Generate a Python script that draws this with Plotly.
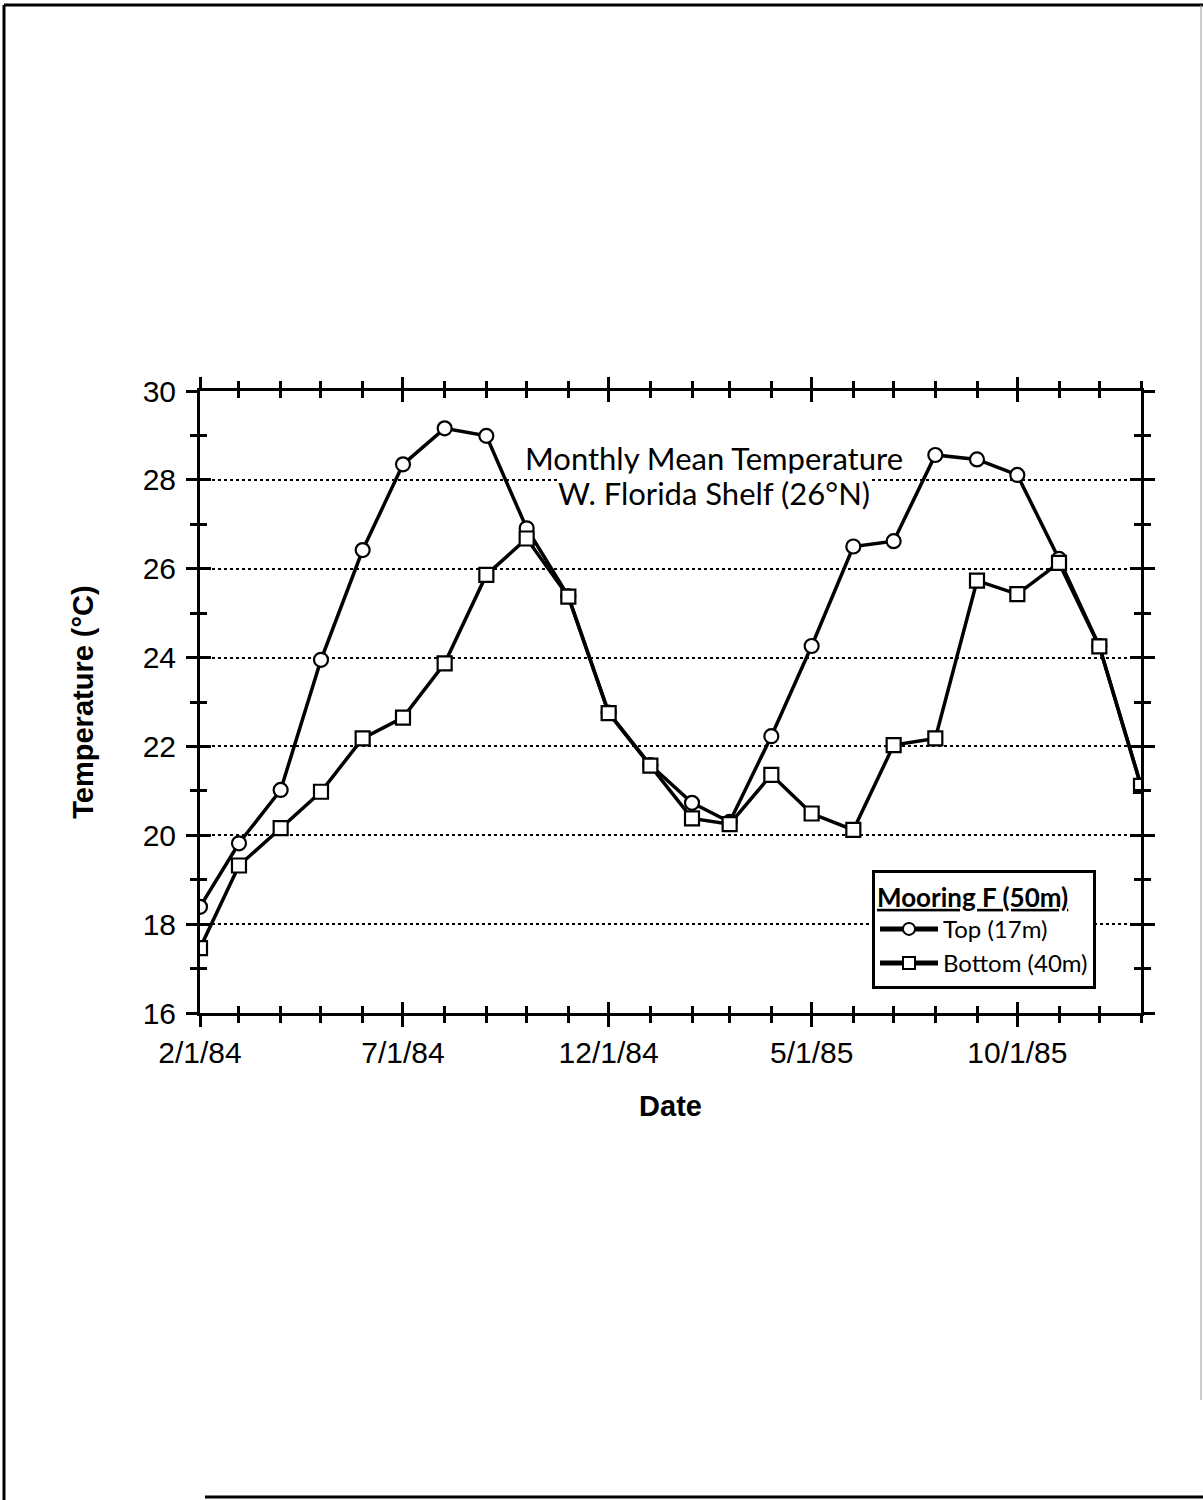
import pandas as pd
import plotly.graph_objects as go

# Monthly mean temperatures, Mooring F (50 m), W. Florida Shelf
months = pd.date_range("1984-02-01", "1986-01-01", freq="MS")
top_17m = [18.39, 19.82, 21.02, 23.95, 26.42, 28.35, 29.16, 28.99, 26.91, 25.38,
           22.76, 21.58, 20.73, 20.30, 22.23, 24.26, 26.50, 26.62, 28.56, 28.46,
           28.11, 26.22, 24.26, 21.12]
bottom_40m = [17.46, 19.32, 20.16, 20.98, 22.18, 22.65, 23.87, 25.86, 26.68, 25.37,
              22.75, 21.57, 20.38, 20.25, 21.36, 20.49, 20.12, 22.03, 22.18, 25.73,
              25.43, 26.13, 24.25, 21.11]

x_tick_dates = ["1984-02-01", "1984-07-01", "1984-12-01", "1985-05-01", "1985-10-01"]
x_tick_labels = ["2/1/84", "7/1/84", "12/1/84", "5/1/85", "10/1/85"]
y_ticks = [16, 18, 20, 22, 24, 26, 28, 30]

W, H = 1203, 1500
L, R, T, B = 200, 62, 391, 487
PW, PH = W - L - R, H - T - B

LABEL_FONT = "Liberation Sans, Arial, sans-serif"
TEXT_FONT = "Lato, sans-serif"


def px_x(p):
    return (p - L) / PW


def px_y(p):
    return (H - B - p) / PH


fig = go.Figure()
fig.add_trace(go.Scatter(
    x=months, y=top_17m, name="Top (17m)", mode="lines+markers",
    line=dict(color="black", width=3.5),
    marker=dict(symbol="circle", size=14, color="white",
                line=dict(color="black", width=2.2)),
))
# bottom series sits on the overlay axes (which carry the inward tick marks)
fig.add_trace(go.Scatter(
    x=months, y=bottom_40m, name="Bottom (40m)", mode="lines+markers",
    xaxis="x2", yaxis="y2",
    line=dict(color="black", width=3.5),
    marker=dict(symbol="square", size=14, color="white",
                line=dict(color="black", width=2.2)),
))

common_x = dict(
    type="date", range=[months[0], months[-1]],
    tickmode="array", tickvals=x_tick_dates,
    ticklen=11, tickwidth=2.5, tickcolor="black",
    minor=dict(tick0="1984-02-01", dtick="M1", ticklen=7, tickwidth=2.5,
               tickcolor="black", showgrid=False),
    showgrid=False, zeroline=False,
)
common_y = dict(
    range=[16, 30], tickmode="array", tickvals=y_ticks,
    ticklen=11, tickwidth=2.5, tickcolor="black",
    minor=dict(dtick=1, ticklen=7, tickwidth=2.5, tickcolor="black", showgrid=False),
    zeroline=False,
)

fig.update_layout(
    width=W, height=H,
    margin=dict(l=L, r=R, t=T, b=B, autoexpand=False),
    paper_bgcolor="white", plot_bgcolor="white",
    showlegend=True,
    xaxis=dict(
        **common_x,
        ticktext=x_tick_labels, ticks="outside",
        minor_ticks="outside",
        showline=True, linewidth=3, linecolor="black", mirror="ticks",
        tickfont=dict(family=LABEL_FONT, size=30, color="black"),
        title=dict(text="<b>Date</b>", standoff=28,
                   font=dict(family=LABEL_FONT, size=29, color="black")),
    ),
    xaxis2=dict(
        **common_x,
        overlaying="x", matches="x", anchor="y2",
        ticks="inside", minor_ticks="inside", showticklabels=False,
        showline=False, mirror="ticks",
    ),
    yaxis=dict(
        **common_y,
        ticks="outside", minor_ticks="outside",
        showline=True, linewidth=3, linecolor="black", mirror="ticks",
        showgrid=True, gridcolor="black", griddash="dot", gridwidth=1.5,
        tickfont=dict(family=LABEL_FONT, size=30, color="black"),
        ticklabelstandoff=4,
        title=dict(text="<b>Temperature (°C)</b>", standoff=41,
                   font=dict(family=LABEL_FONT, size=29, color="black")),
    ),
    yaxis2=dict(
        **common_y,
        overlaying="y", matches="y", anchor="x2",
        ticks="inside", minor_ticks="inside", showticklabels=False,
        showline=False, mirror="ticks", showgrid=False,
    ),
    legend=dict(
        x=px_x(872), y=px_y(870), xanchor="left", yanchor="top",
        bgcolor="white", bordercolor="black", borderwidth=3,
        font=dict(family=TEXT_FONT, size=24, color="black"),
        title=dict(text="<b><u>Mooring F (50m)</u></b>",
                   font=dict(family=TEXT_FONT, size=26, color="black")),
        itemsizing="constant", itemwidth=58, tracegroupgap=0,
    ),
)

title_lines = [("Monthly Mean Temperature", 458),
               ("W. Florida Shelf (26°N)", 493)]
for text, ypx in title_lines:
    fig.add_annotation(
        xref="paper", yref="paper", x=px_x(714), y=px_y(ypx),
        xanchor="center", yanchor="middle", showarrow=False,
        text=text, font=dict(family=TEXT_FONT, size=31, color="black"),
        bgcolor="white", borderpad=0,
    )

# page frame
frame = [
    (4, 5, 1203, 5, "black", 3),
    (4, 5, 4, 1500, "black", 3),
    (205, 1497, 1203, 1497, "black", 3),
    (1201, 5, 1201, 1400, "#999999", 1),
]
for x0, y0, x1, y1, c, w in frame:
    fig.add_shape(type="line", xref="paper", yref="paper",
                  x0=px_x(x0), y0=px_y(y0), x1=px_x(x1), y1=px_y(y1),
                  line=dict(color=c, width=w), layer="above")

fig.write_html("out.html")
